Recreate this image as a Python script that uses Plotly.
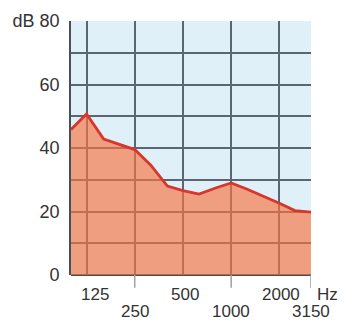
import math
import plotly.graph_objects as go

# Third-octave band centre frequencies (Hz) and levels (dB)
freqs = [100, 125, 160, 200, 250, 315, 400, 500, 630, 800, 1000, 1250, 1600, 2000, 2500, 3150]
levels = [45.8, 50.7, 42.8, 41.2, 39.5, 34.6, 28.0, 26.6, 25.5, 27.4, 29.0, 27.1, 24.8, 22.6, 20.3, 19.8]

grid_freqs = [125, 250, 500, 1000, 2000, 3150]
upper_labels = [125, 500, 2000]
lower_labels = [250, 1000, 3150]
y_ticks = [0, 10, 20, 30, 40, 50, 60, 70, 80]
y_text = ["0", "", "20", "", "40", "", "60", "", "dB 80"]

font_family = "Liberation Sans, Arial, sans-serif"
text_color = "#333333"

x_lo = math.log10(freqs[0])
x_hi = math.log10(freqs[-1]) + 1e-4

fig = go.Figure()
fig.add_trace(go.Scatter(
    x=freqs, y=levels, mode="lines",
    fill="tozeroy", fillcolor="rgba(248,115,63,0.66)",
    line=dict(color="#d8352c", width=2.8),
    hoverinfo="skip", showlegend=False,
))

annotations = []
for f in upper_labels:
    annotations.append(dict(
        x=math.log10(f), xref="x", y=0, yref="paper", text=str(f), showarrow=False,
        yanchor="middle", yshift=-19, xshift=8 if f == 125 else 2,
        font=dict(size=17, color=text_color, family=font_family),
    ))
for f in lower_labels:
    annotations.append(dict(
        x=math.log10(f), xref="x", y=0, yref="paper", text=str(f), showarrow=False,
        yanchor="middle", yshift=-36, xshift=0,
        font=dict(size=17, color=text_color, family=font_family),
    ))
annotations.append(dict(
    x=math.log10(grid_freqs[-1]), xref="x", y=0, yref="paper", text="Hz", showarrow=False,
    xanchor="left", yanchor="middle", yshift=-19, xshift=4,
    font=dict(size=17, color=text_color, family=font_family),
))

shapes = []
for f in lower_labels:
    shapes.append(dict(
        type="line", xref="x", yref="paper", x0=f, x1=f, y0=0, y1=-0.05,
        line=dict(color="#a0a0a0", width=1.5),
    ))

fig.update_layout(
    width=344, height=320,
    margin=dict(l=71, r=33, t=21, b=45, autoexpand=False),
    paper_bgcolor="white",
    plot_bgcolor="#dff0f8",
    annotations=annotations,
    shapes=shapes,
    xaxis=dict(
        type="log", range=[x_lo, x_hi], automargin=False,
        tickvals=grid_freqs, showticklabels=False, ticks="",
        showgrid=True, gridcolor="#5a6670", gridwidth=1.6,
        showline=False, zeroline=False,
    ),
    yaxis=dict(
        range=[0, 80], tickvals=y_ticks, ticktext=y_text, automargin=False,
        showgrid=True, gridcolor="#5a6670", gridwidth=1.6,
        ticks="", ticklabelstandoff=6,
        showline=True, linecolor="#4a4f55", linewidth=1.6,
        zeroline=True, zerolinecolor="#4a4f55", zerolinewidth=1.6,
        tickfont=dict(size=18, color=text_color, family=font_family),
    ),
)

fig.write_html("out.html")
